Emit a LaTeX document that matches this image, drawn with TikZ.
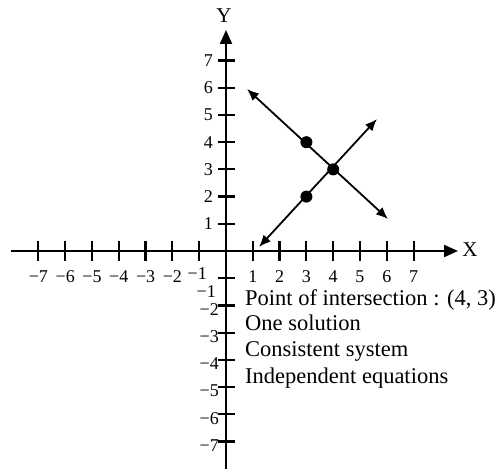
\documentclass[tikz,border=0pt]{standalone}
\usepackage{fontspec}
\setmainfont{Liberation Serif}
\usetikzlibrary{arrows.meta}
\begin{document}
\begin{tikzpicture}[x=1pt,y=1pt,
  axis/.style={line width=2.2pt},
  tickmark/.style={line width=2.2pt},
  gline/.style={line width=1.8pt,{Latex[length=12pt,width=10pt]}-{Latex[length=12pt,width=10pt]}},
  dot/.style={circle,fill=black,inner sep=0pt,minimum size=12pt},
  num/.style={font=\fontsize{18}{18}\selectfont,inner sep=0pt},
  lbl/.style={font=\fontsize{21}{21}\selectfont,inner sep=0pt},
  txt/.style={font=\fontsize{22.5}{22.5}\selectfont,inner sep=0pt,anchor=base west}]
\def\ux{26.8}
\def\uy{27.2}
\useasboundingbox (-226,-218) rectangle (270,251);
% axes
\coordinate (xl) at (-215,0);
\coordinate (xr) at (232,0);
\coordinate (yb) at (0,-218);
\coordinate (yt) at (0,221);
\draw[axis,-{Triangle[length=14pt,width=12pt]}] (xl) -- (xr);
\draw[axis,-{Triangle[length=14pt,width=12pt]}] (yb) -- (yt);
\node[lbl] (X) at (244,1) {X};
\node[lbl] (Y) at (-2,235) {Y};
% ticks
\foreach \i in {-7,...,-1,1,2,...,7}{
  \draw[tickmark] (\i*\ux,-10) -- (\i*\ux,10);
  \draw[tickmark] (-8,\i*\uy) -- (9,\i*\uy);
}
% labels
\foreach \i in {1,...,7}{
  \node[num] (xp\i) at (\i*\ux,-26) {\i};
  \node[num,anchor=east] (yp\i) at (-13,\i*\uy) {\i};
}
\foreach \i in {2,...,7}{
  \node[num] (xn\i) at (-\i*\ux,-26) {−\i};
}
\node[num] (xn1) at (-\ux-2,-23) {−1};
\foreach \i in {2,...,7}{
  \node[num,anchor=east] (yn\i) at (-7,-\i*\uy-4) {−\i};
}
\node[num,anchor=east] (yn1) at (-10,-41) {−1};
% lines
\coordinate (a1) at (21,162);
\coordinate (a2) at (162,32);
\coordinate (b1) at (33,4);
\coordinate (b2) at (151,132);
\draw[gline] (a1) -- (a2);
\draw[gline] (b1) -- (b2);
\node[dot] (p1) at (3*\ux,4*\uy) {};
\node[dot] (p2) at (4*\ux,3*\uy) {};
\node[dot] (p3) at (3*\ux,2*\uy) {};
% text
\node[txt] (t1) at (19,-54) {Point of intersection : (4, 3)};
\node[txt] (t2) at (19,-79) {One solution};
\node[txt] (t3) at (19,-105) {Consistent system};
\node[txt] (t4) at (19,-132) {Independent equations};
\end{tikzpicture}
\end{document}
